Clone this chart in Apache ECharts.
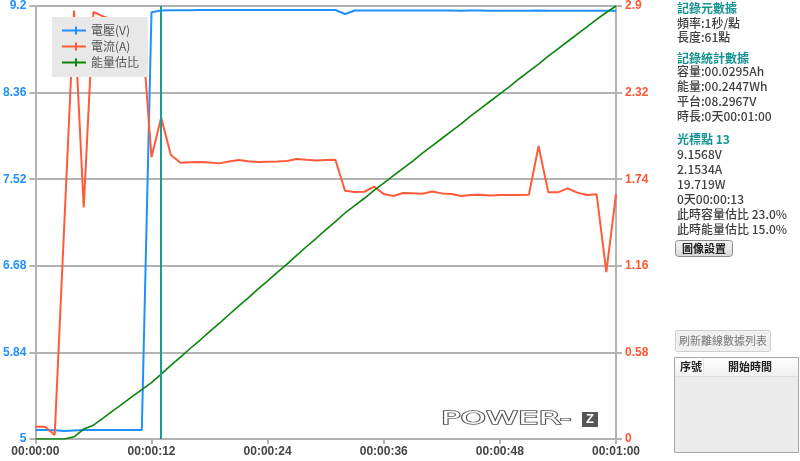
<!DOCTYPE html>
<html><head><meta charset="utf-8">
<script src="https://cdn.jsdelivr.net/npm/echarts@6/dist/echarts.min.js"></script>
<style>html,body{margin:0;padding:0;background:#fff}#c{width:800px;height:461px}</style>
</head><body><div id="c"></div>
<script>
const seconds = [0,1,2,3,4,5,6,7,8,9,10,11,12,13,14,15,16,17,18,19,20,21,22,23,24,25,26,27,28,29,30,31,32,33,34,35,36,37,38,39,40,41,42,43,44,45,46,47,48,49,50,51,52,53,54,55,56,57,58,59,60];
const voltage = [5.087,5.087,5.085,5.078,5.083,5.087,5.087,5.087,5.087,5.087,5.087,5.087,9.139,9.157,9.158,9.159,9.159,9.160,9.160,9.160,9.161,9.161,9.161,9.161,9.161,9.161,9.161,9.161,9.161,9.161,9.161,9.161,9.122,9.156,9.157,9.157,9.157,9.157,9.156,9.157,9.156,9.156,9.156,9.156,9.155,9.156,9.156,9.155,9.155,9.155,9.155,9.155,9.156,9.155,9.155,9.155,9.155,9.155,9.155,9.154,9.154];
const current = [0.082,0.082,0.027,1.45,2.87,1.55,2.86,2.83,2.81,2.79,2.77,2.76,1.887,2.153,1.902,1.85,1.853,1.855,1.852,1.846,1.858,1.869,1.86,1.855,1.857,1.858,1.862,1.875,1.87,1.866,1.868,1.87,1.663,1.654,1.656,1.69,1.641,1.628,1.648,1.646,1.642,1.657,1.645,1.641,1.628,1.634,1.636,1.631,1.634,1.634,1.634,1.636,1.962,1.652,1.652,1.679,1.65,1.634,1.639,1.118,1.64];
const energyRatio = [0,0,0,0,0.005,0.023,0.032,0.048,0.065,0.081,0.098,0.114,0.130,0.150,0.170,0.189,0.209,0.228,0.248,0.267,0.287,0.307,0.326,0.346,0.365,0.385,0.404,0.424,0.444,0.463,0.483,0.502,0.522,0.539,0.556,0.574,0.591,0.608,0.625,0.642,0.660,0.677,0.694,0.711,0.728,0.746,0.763,0.780,0.797,0.814,0.832,0.849,0.866,0.884,0.901,0.918,0.935,0.952,0.969,0.985,1.0];
const voltTicks = [5,5.84,6.68,7.52,8.36,9.2];
const currTicks = [0,0.58,1.16,1.74,2.32,2.9];
const timeTicks = [0,12,24,36,48,60];
const seriesNames = ['電壓(V)','電流(A)','能量估比'];
const cursorSec = 13;
const panelLines = [
  ['記錄元數據', true], ['頻率:1秒/點', false], ['長度:61點', false],
  ['記錄統計數據', true], ['容量:00.0295Ah', false], ['能量:00.2447Wh', false], ['平台:08.2967V', false], ['時長:0天00:01:00', false],
  ['光標點 13', true], ['9.1568V', false], ['2.1534A', false], ['19.719W', false], ['0天00:00:13', false], ['此時容量估比 23.0%', false], ['此時能量估比 15.0%', false]
];
const panelY = [10,25,39,60,73,88,103,118,141,156,171,186,201,216,231];

const pair = arr => seconds.map((s,i)=>[s,arr[i]]);
const fmtTime = v => { const h=Math.floor(v/3600), m=Math.floor(v%3600/60), s=Math.round(v%60); const p=n=>String(n).padStart(2,'0'); return p(h)+':'+p(m)+':'+p(s); };
const fmtNum = v => String(+(+v).toFixed(2));

const chart = echarts.init(document.getElementById('c'), null, {renderer:'canvas'});
const F = "'Liberation Sans', Arial, sans-serif";
const CJK = "'Noto Sans CJK TC', 'Liberation Sans', sans-serif";
const gridColor = '#b3b3b3';

const graphics = [];
panelLines.forEach((l,i)=>{
  graphics.push({type:'text', left:677, top: panelY[i]-8, silent:true,
    style:{text:l[0], fill: l[1] ? '#14928f' : '#3f3f3f', font: (l[1]?'bold ':'500 ')+'12px '+CJK}});
});
// buttons
graphics.push({type:'rect', shape:{x:675.5,y:240.5,width:57,height:16,r:3}, style:{fill:new echarts.graphic.LinearGradient(0,0,0,1,[{offset:0,color:'#f7f7f7'},{offset:1,color:'#d8d8d8'}]), stroke:'#8a8a8a', lineWidth:1}});
graphics.push({type:'text', x:704, y:248.5, style:{text:'圖像設置', fill:'#222', font:'bold 11px '+CJK, align:'center', verticalAlign:'middle'}});
graphics.push({type:'rect', shape:{x:675.5,y:330.5,width:95,height:21,r:2}, style:{fill:'#f0f0f0', stroke:'#cfcfcf', lineWidth:1}});
graphics.push({type:'text', x:723, y:341, style:{text:'刷新離線數據列表', fill:'#777', font:'11px '+CJK, align:'center', verticalAlign:'middle'}});
// table
graphics.push({type:'rect', shape:{x:674.5,y:357.5,width:124,height:95}, style:{fill:'#ececec', stroke:'#a8a8a8', lineWidth:1}});
graphics.push({type:'rect', shape:{x:675,y:358,width:123,height:18}, style:{fill:new echarts.graphic.LinearGradient(0,0,0,1,[{offset:0,color:'#ffffff'},{offset:1,color:'#f1f1f1'}])}});
graphics.push({type:'line', shape:{x1:675,y1:376.5,x2:798,y2:376.5}, style:{stroke:'#e0e0e0', lineWidth:1}});
graphics.push({type:'line', shape:{x1:703.5,y1:359,x2:703.5,y2:375}, style:{stroke:'#e4e4e4', lineWidth:1}});
graphics.push({type:'text', x:680, y:367, style:{text:'序號', fill:'#222', font:'bold 11px '+CJK, verticalAlign:'middle'}});
graphics.push({type:'text', x:750, y:367, style:{text:'開始時間', fill:'#222', font:'bold 11px '+CJK, align:'center', verticalAlign:'middle'}});
// logo
graphics.push({type:'text', x:441, y:419.5, scaleX:1.8, scaleY:1, style:{text:'POWER-', fill:'#ffffff', stroke:'#555555', lineWidth:1.4, font:'18px "DejaVu Sans", sans-serif', verticalAlign:'middle'}});
graphics.push({type:'rect', shape:{x:582,y:412,width:16,height:15}, style:{fill:'#555555'}});
graphics.push({type:'text', x:590, y:419.5, style:{text:'Z', fill:'#fff', font:'bold 13px '+F, align:'center', verticalAlign:'middle'}});

chart.setOption({
  animation:false,
  backgroundColor:'#fff',
  grid:{left:35, right:184, top:6, bottom:22, containLabel:false},
  legend:{
    data: seriesNames.map(n=>({name:n, icon:'path://M0,3 H24 V5 H0 Z M13,0 H15 V8 H13 Z'})),
    orient:'vertical', left:52, top:17, padding:[7,9,8,10], itemWidth:24, itemHeight:8, itemGap:3,
    backgroundColor:'#e8e8e8',
    textStyle:{color:'#555', fontSize:12, fontFamily:CJK, lineHeight:13}
  },
  xAxis:{type:'value', min:0, max:60, interval:12,
    axisLine:{show:true, lineStyle:{color:gridColor, width:2}},
    axisTick:{show:true, length:5, lineStyle:{color:gridColor, width:2}},
    axisLabel:{color:'#444', fontWeight:'bold', fontSize:12, fontFamily:F, margin:7, formatter:fmtTime},
    splitLine:{show:false}
  },
  yAxis:[
    {type:'value', min:voltTicks[0], max:voltTicks[voltTicks.length-1], position:'left',
      axisLine:{show:true, lineStyle:{color:gridColor, width:2}},
      axisTick:{show:true, length:6, customValues:voltTicks, lineStyle:{color:gridColor, width:2}},
      axisLabel:{color:'#1e90ff', fontWeight:'bold', fontSize:12, fontFamily:F, margin:9, customValues:voltTicks, formatter:fmtNum},
      splitLine:{show:false}
    },
    {type:'value', min:0, max:currTicks[currTicks.length-1], interval:currTicks[1], position:'right',
      axisLine:{show:true, lineStyle:{color:gridColor, width:2}},
      axisTick:{show:true, length:6, lineStyle:{color:gridColor, width:2}},
      axisLabel:{color:'#ff5533', fontWeight:'bold', fontSize:12, fontFamily:F, margin:9, formatter:fmtNum},
      splitLine:{show:true, lineStyle:{color:gridColor, width:2}}
    },
    {type:'value', min:0, max:1, show:false}
  ],
  series:[
    {name:seriesNames[0], type:'line', yAxisIndex:0, data:pair(voltage), symbol:'none', color:'#1e90ff', lineStyle:{width:2},
      markLine:{silent:true, symbol:'none', label:{show:false}, lineStyle:{color:'#1b9a96', width:2, type:'solid'}, data:[{xAxis:cursorSec}]}},
    {name:seriesNames[1], type:'line', yAxisIndex:1, data:pair(current), symbol:'none', color:'#ff5b3b', lineStyle:{width:2}},
    {name:seriesNames[2], type:'line', yAxisIndex:2, data:pair(energyRatio), symbol:'none', color:'#0a840a', lineStyle:{width:1.6}}
  ],
  graphic:graphics
});
</script></body></html>
